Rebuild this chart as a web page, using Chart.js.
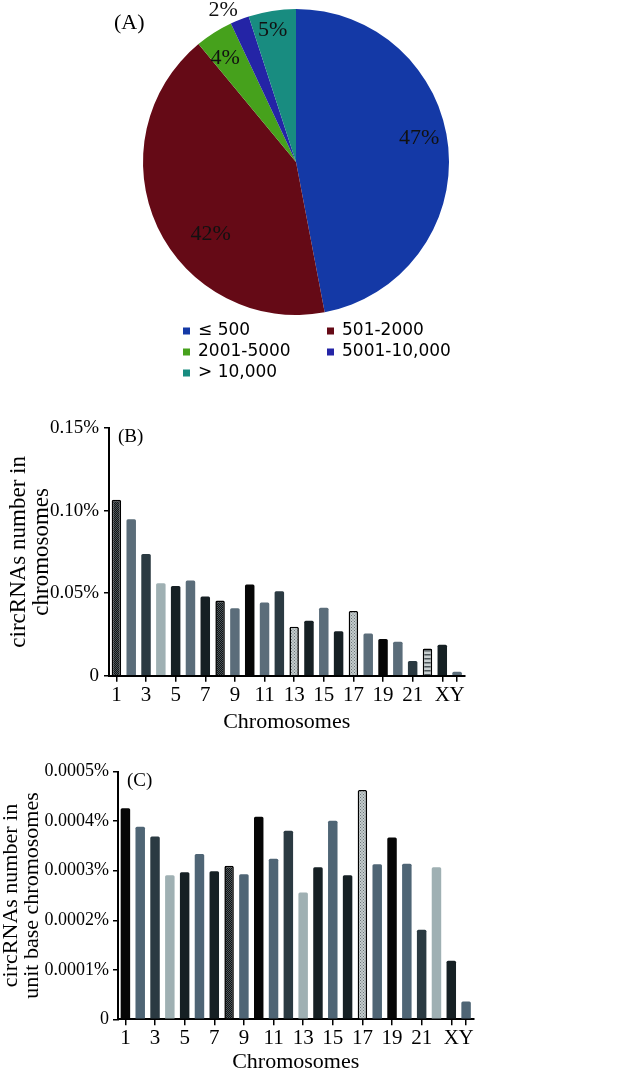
<!DOCTYPE html>
<html>
<head>
<meta charset="utf-8">
<script src="https://cdn.jsdelivr.net/npm/chart.js@4.4.0/dist/chart.umd.min.js"></script>
<style>
  html, body { margin: 0; padding: 0; background: #fff; }
  body { width: 630px; height: 1081px; position: relative; overflow: hidden; }
  .panel { position: absolute; left: 0; width: 630px; }
</style>
</head>
<body>
<div class="panel" style="top:0;height:390px"><canvas id="pie"></canvas></div>
<div class="panel" style="top:390px;height:344px"><canvas id="barB"></canvas></div>
<div class="panel" style="top:740px;height:334px"><canvas id="barC"></canvas></div>
<script>
// data
var sizeLabels = ['\u2264 500', '501-2000', '2001-5000', '5001-10,000', '> 10,000'];
var sizeShares = [47, 42, 4, 2, 5];

var chromosomes = ['1','2','3','4','5','6','7','8','9','10','11','12','13','14','15','16','17','18','19','20','21','22','X','Y'];
var countShare = [0.1065, 0.0947, 0.0737, 0.0560, 0.0543, 0.0576, 0.0479, 0.0455, 0.0408, 0.0553, 0.0444, 0.0511,
                  0.0297, 0.0333, 0.0412, 0.0269, 0.0392, 0.0255, 0.0222, 0.0206, 0.0089, 0.0164, 0.0188, 0.0024];
var unitShare = [0.000426, 0.000389, 0.000369, 0.000291, 0.000297, 0.000334, 0.000299, 0.000310, 0.000293, 0.000409, 0.000324, 0.000381,
                 0.000256, 0.000307, 0.000401, 0.000291, 0.000463, 0.000313, 0.000367, 0.000314, 0.000181, 0.000307, 0.000118, 0.000036];
var countTicks = [0, 0.05, 0.10, 0.15];
var unitTicks = [0, 0.0001, 0.0002, 0.0003, 0.0004, 0.0005];

// styles
var SERIF = '"Liberation Serif", "Times New Roman", serif';
var pieColors = ['#1439a6', '#650a16', '#46a11c', '#2424a6', '#188c80'];
var fillB = ['dotsDark','slate','dark','light','vdark','slate','vdark','dotsDark','slate','black','slate','dark',
             'dotsLight','vdark','slate','vdark','dotsLight','slate','black','slate','dark','stripes','vdark','slate'];
var fillC = ['black','slate','dark','light','vdark','slate','vdark','dotsDark','slate','black','slate','dark',
             'light','vdark','slate','vdark','dotsLight','slate','black','slate','dark','light','vdark','slate'];

function makePattern(kind) {
  var c = document.createElement('canvas');
  var g = c.getContext('2d');
  if (kind == 'stripes') {
    c.width = 4; c.height = 4;
    g.fillStyle = '#c9d0d1'; g.fillRect(0, 0, 4, 4);
    g.fillStyle = '#4a5357'; g.fillRect(0, 0, 4, 1.5);
  } else if (kind == 'dotsDark') {
    c.width = 2; c.height = 2;
    g.fillStyle = '#111416'; g.fillRect(0, 0, 2, 2);
    g.fillStyle = '#4d5659'; g.fillRect(0, 0, 1, 1); g.fillRect(1, 1, 1, 1);
  } else {
    c.width = 3; c.height = 3;
    g.fillStyle = '#c4cccd'; g.fillRect(0, 0, 3, 3);
    g.fillStyle = '#6a7477'; g.fillRect(0, 0, 1, 1); g.fillRect(1.5, 1.5, 1, 1);
  }
  return g.createPattern(c, 'repeat');
}

function fillStyles(list, slate) {
  var solid = { black: '#060606', vdark: '#162024', dark: '#2b3a42', slate: slate, light: '#9fb0b3' };
  var cache = {};
  return list.map(function(k) {
    if (solid[k]) return solid[k];
    if (!cache[k]) cache[k] = makePattern(k);
    return cache[k];
  });
}
function borderWidths(list) {
  return list.map(function(k) { return solid(k) ? 0 : 1.6; });
  function solid(k) { return ['black','vdark','dark','slate','light'].indexOf(k) >= 0; }
}

// panel tag like (A)
var panelTag = {
  id: 'panelTag',
  afterDraw: function(chart, args, opts) {
    if (!opts.text) return;
    var ctx = chart.ctx;
    var a = chart.chartArea;
    ctx.save();
    ctx.font = opts.size + 'px ' + SERIF;
    ctx.fillStyle = '#000';
    ctx.textBaseline = 'middle';
    var x = opts.fixed ? opts.x : a.left + opts.x;
    var y = opts.fixed ? opts.y : a.top + opts.y;
    ctx.fillText(opts.text, x, y);
    ctx.restore();
  }
};

// percent labels on the pie
var pieLabels = {
  id: 'pieLabels',
  afterDatasetsDraw: function(chart, args, opts) {
    var ctx = chart.ctx;
    var meta = chart.getDatasetMeta(0);
    ctx.save();
    ctx.font = '22px ' + SERIF;
    ctx.fillStyle = '#111';
    ctx.textAlign = 'center';
    ctx.textBaseline = 'middle';
    meta.data.forEach(function(arc, i) {
      var p = arc.getProps(['x', 'y', 'startAngle', 'endAngle', 'outerRadius'], true);
      var place = opts.place[i];
      var mid = (p.startAngle + p.endAngle) / 2 + place[1] * Math.PI / 180;
      var r = p.outerRadius * place[0];
      ctx.fillText(chart.data.datasets[0].data[i] + '%', p.x + Math.cos(mid) * r, p.y + Math.sin(mid) * r);
    });
    ctx.restore();
  }
};

// two column legend under the pie
var pieLegend = {
  id: 'pieLegend',
  afterDraw: function(chart) {
    var ctx = chart.ctx;
    var colX = [183, 327], rowY = [331, 352, 373];
    ctx.save();
    ctx.font = '17px "DejaVu Sans", sans-serif';
    ctx.textBaseline = 'middle';
    chart.data.labels.forEach(function(lab, i) {
      var x = colX[i % 2], y = rowY[Math.floor(i / 2)];
      ctx.fillStyle = chart.data.datasets[0].backgroundColor[i];
      ctx.fillRect(x, y - 3.5, 7, 7);
      ctx.fillStyle = '#000';
      ctx.fillText(lab, x + 15, y);
    });
    ctx.restore();
  }
};

new Chart(document.getElementById('pie'), {
  type: 'pie',
  data: {
    labels: sizeLabels,
    datasets: [{ data: sizeShares, backgroundColor: pieColors, borderWidth: 0 }]
  },
  options: {
    responsive: true,
    maintainAspectRatio: false,
    animation: false,
    layout: { padding: { left: 143, right: 181, top: 9, bottom: 75 } },
    plugins: {
      legend: { display: false },
      tooltip: { enabled: false },
      pieLabels: { place: [[0.82, -5.6], [0.73, -15], [0.82, -2], [1.10, -4], [0.875, -1]] },
      panelTag: { text: '(A)', size: 22, fixed: true, x: 114, y: 23 }
    }
  },
  plugins: [pieLabels, pieLegend, panelTag]
});

function barChart(id, values, fills, slate, ticks, decimals, yTitle, tag, box) {
  return new Chart(document.getElementById(id), {
    type: 'bar',
    data: {
      labels: chromosomes,
      datasets: [{
        data: values,
        backgroundColor: fillStyles(fills, slate),
        borderColor: '#000',
        borderWidth: borderWidths(fills),
        borderSkipped: 'bottom',
        borderRadius: 1.5,
        categoryPercentage: 1,
        barPercentage: 0.64
      }]
    },
    options: {
      responsive: true,
      maintainAspectRatio: false,
      animation: false,
      layout: { padding: { left: 0, right: box.right, top: box.top, bottom: 0 } },
      plugins: {
        legend: { display: false },
        tooltip: { enabled: false },
        panelTag: { text: tag, size: 19, x: 9, y: 9 }
      },
      scales: {
        x: {
          offset: true,
          afterFit: function(s) { s.height = box.xh; },
          border: { display: true, color: '#000', width: 2 },
          grid: {
            offset: false,
            drawOnChartArea: false,
            tickLength: 6,
            lineWidth: 1.5,
            color: function(c) { return (c.index % 2 === 0 || c.index === 23) ? '#000' : 'rgba(0,0,0,0)'; }
          },
          ticks: {
            autoSkip: false,
            maxRotation: 0,
            padding: 1,
            color: '#000',
            font: { family: SERIF, size: 21 },
            callback: function(v, i) { return (i % 2 === 0 || i === 23) ? chromosomes[i] : ''; }
          },
          title: {
            display: true,
            text: 'Chromosomes',
            color: '#000',
            font: { family: SERIF, size: 22, lineHeight: 1.1 },
            padding: { top: 0, bottom: 0 }
          }
        },
        y: {
          min: 0,
          max: ticks[ticks.length - 1],
          afterFit: function(s) { s.width = box.left; },
          afterBuildTicks: function(s) { s.ticks = ticks.map(function(v) { return { value: v }; }); },
          border: { display: true, color: '#000', width: 2 },
          grid: { drawOnChartArea: false, tickLength: 5, lineWidth: 1.5, color: '#000' },
          ticks: {
            padding: box.tickPad,
            color: '#000',
            font: { family: SERIF, size: box.tickSize },
            callback: function(v) { return v === 0 ? '0' : v.toFixed(decimals) + '%'; }
          },
          title: {
            display: true,
            text: yTitle,
            color: '#000',
            font: { family: SERIF, size: box.titleSize, lineHeight: box.titleLine },
            padding: { top: box.titlePad, bottom: 0 }
          }
        }
      }
    },
    plugins: [panelTag]
  });
}

barChart('barB', countShare, fillB, '#5b6d7a', countTicks, 2,
  ['circRNAs number in', 'chromosomes'], '(B)',
  { left: 109, right: 165.5, top: 38, xh: 58.3, tickPad: 5, tickSize: 19, titleSize: 23, titleLine: 1.0, titlePad: 7 });

barChart('barC', unitShare, fillC, '#4f6575', unitTicks, 4,
  ['circRNAs number in', 'unit base chromosomes'], '(C)',
  { left: 118, right: 156.5, top: 31.7, xh: 54.7, tickPad: 4, tickSize: 18, titleSize: 22, titleLine: 0.95, titlePad: 1 });
</script>
</body>
</html>
